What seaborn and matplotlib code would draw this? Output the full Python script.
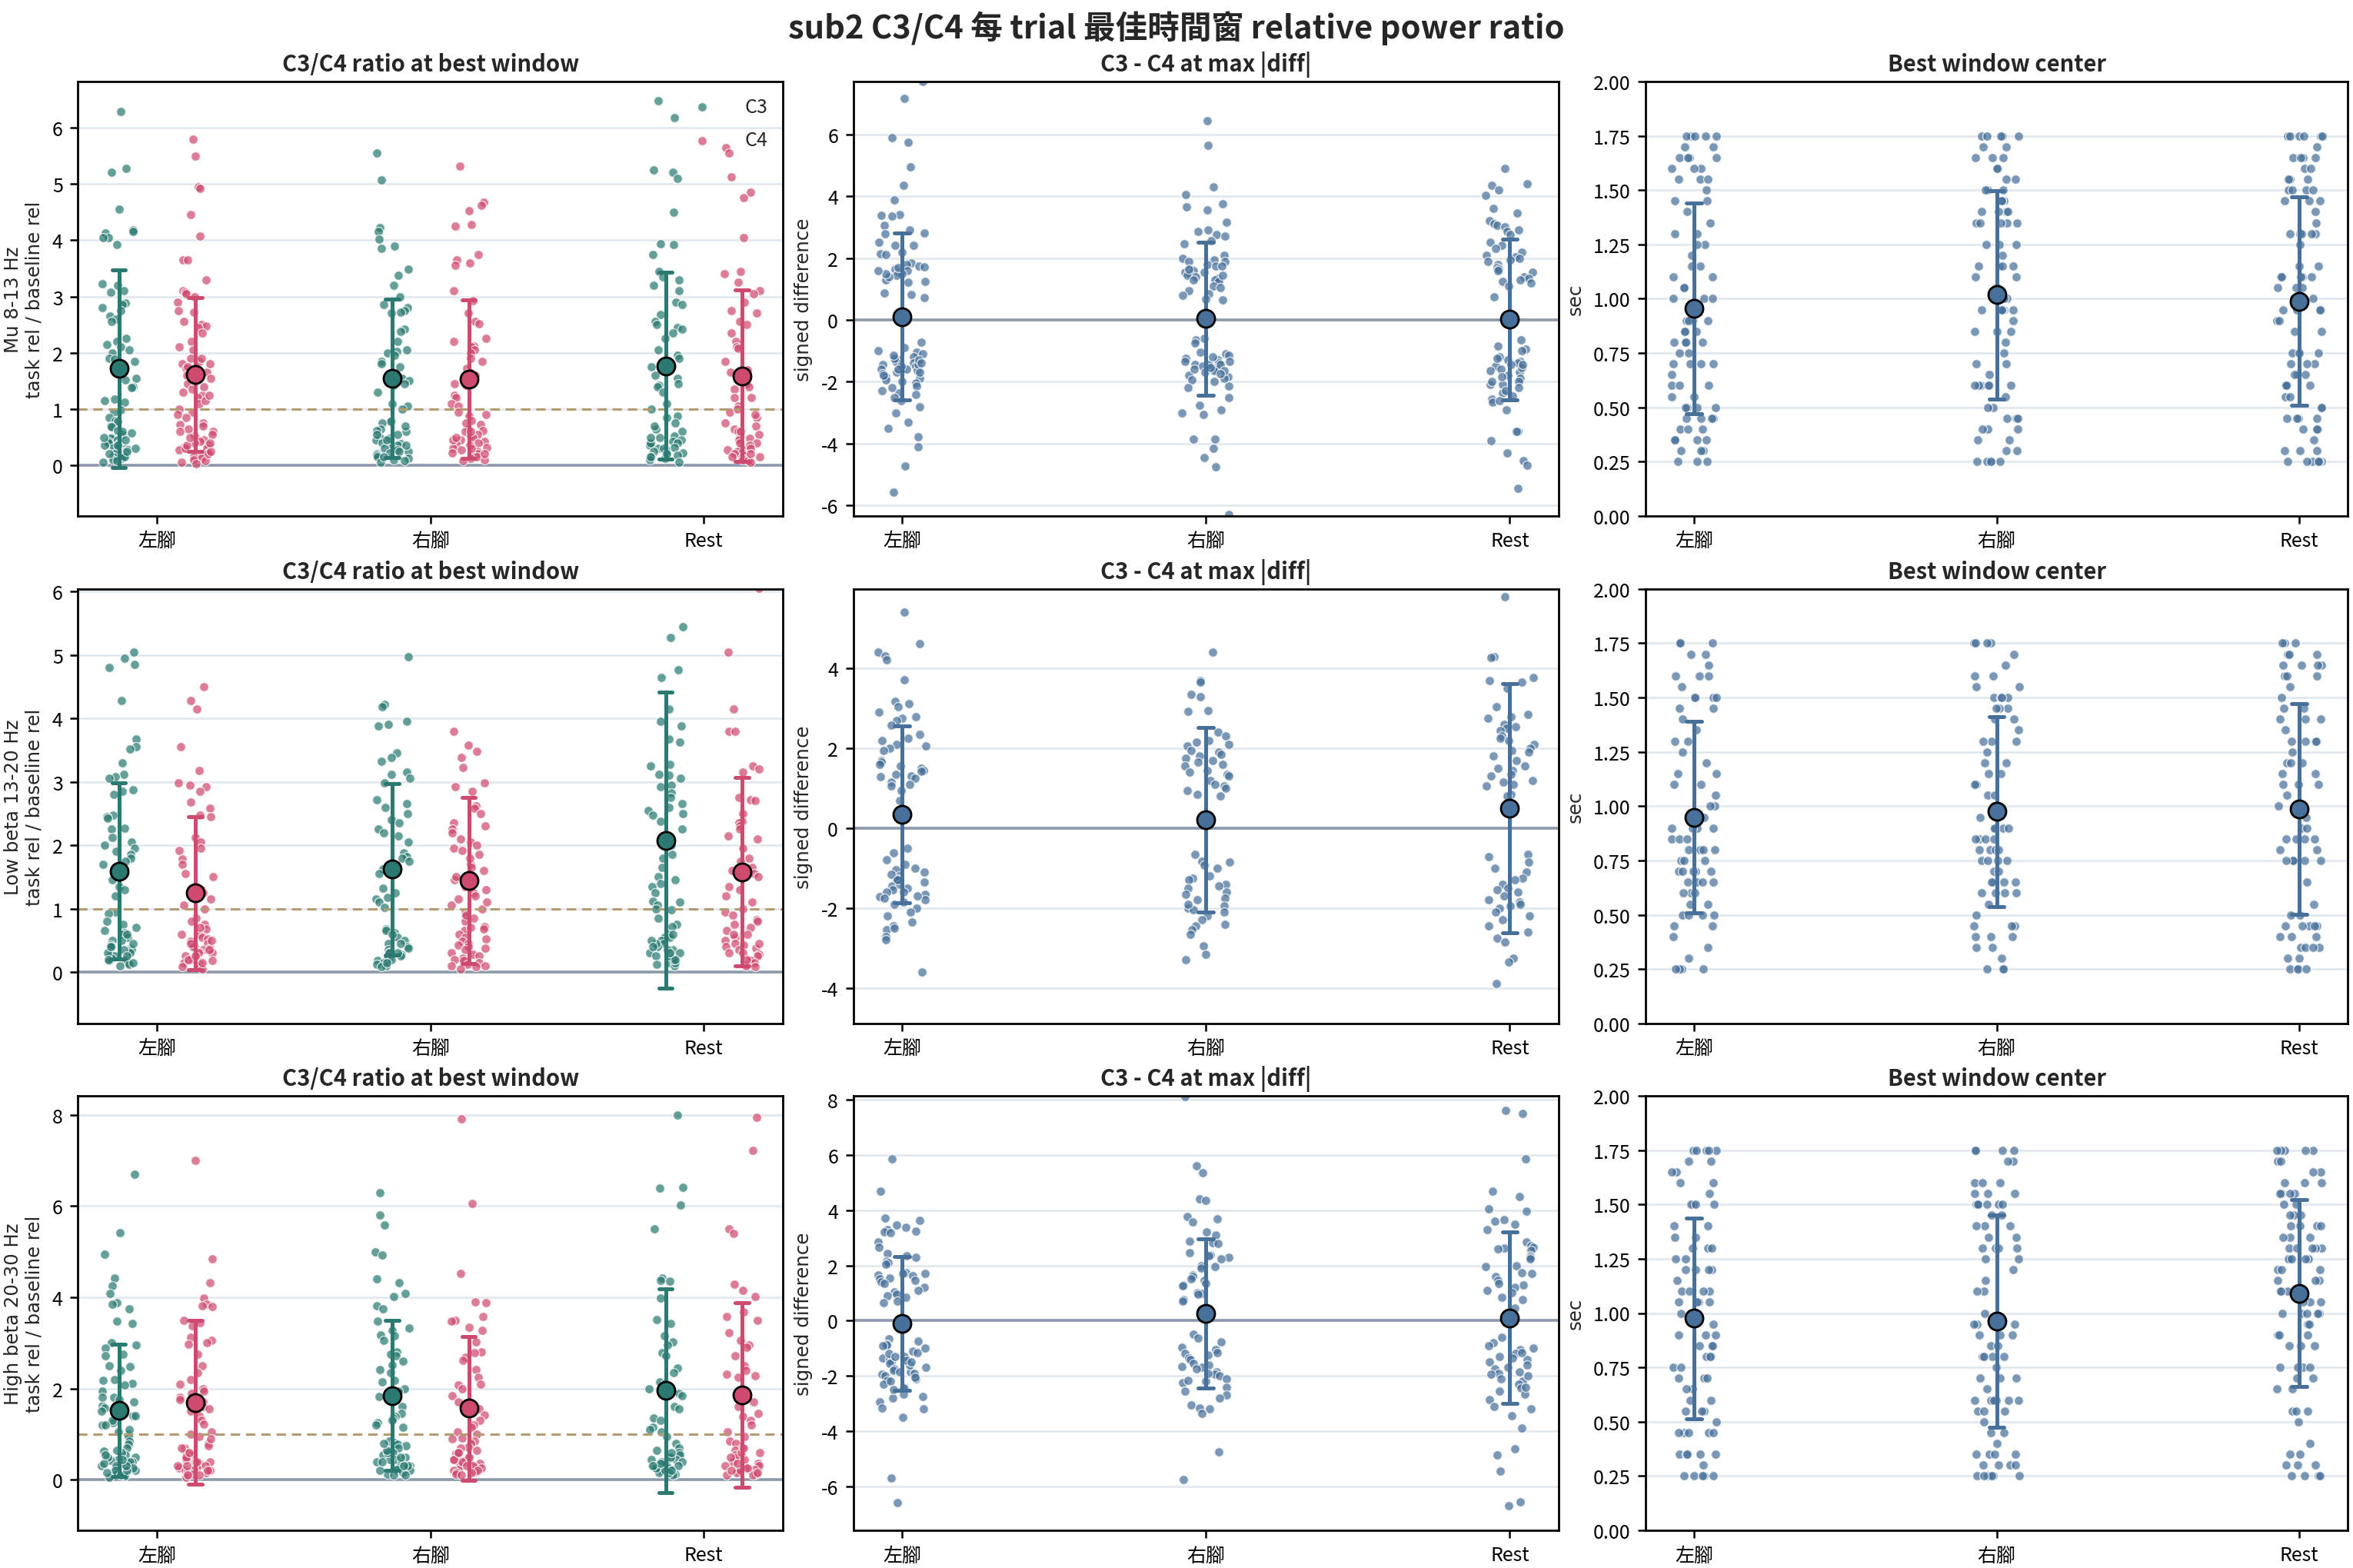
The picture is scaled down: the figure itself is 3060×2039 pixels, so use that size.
import numpy as np
import pandas as pd
import matplotlib
matplotlib.use("Agg")
import matplotlib.pyplot as plt
import seaborn as sns
from matplotlib.ticker import MultipleLocator, FormatStrFormatter

# ---------------- categories / labels ----------------
CLASSES = ["左腳", "右腳", "Rest"]
CHANNELS = ["C3", "C4"]
BANDS = ["Mu 8-13 Hz", "Low beta 13-20 Hz", "High beta 20-30 Hz"]
SUPTITLE = "sub2 C3/C4 每 trial 最佳時間窗 relative power ratio"
COL_TITLES = ["C3/C4 ratio at best window", "C3 - C4 at max |diff|", "Best window center"]

# ---------------- Mu 8-13 Hz : C3/C4 ratio ----------------
mu_left_c3 = [6.28,5.27,5.20,4.55,4.18,4.15,4.13,4.05,4.05,3.92,3.22,3.20,3.10,3.07,2.88,2.85,2.80,2.75,2.65,2.60,2.55,2.25,2.20,2.15,2.10,2.05,2.00,1.90,1.88,1.85,1.55,1.52,1.40,1.38,1.18,1.15,1.12,0.98,0.95,0.85,0.80,0.78,0.70,0.68,0.62,0.58,0.55,0.50,0.48,0.45,0.42,0.40,0.38,0.36,0.35,0.32,0.30,0.28,0.25,0.22,0.20,0.18,0.15,0.12,0.10,0.08,0.05,9.50,0.30,0.20,0.45,0.15,0.25,0.35,0.60,0.50]
mu_left_c4 = [5.80,5.50,4.95,4.92,4.45,4.07,3.65,3.65,3.30,3.10,3.08,3.05,3.00,2.90,2.75,2.72,2.55,2.50,2.48,2.45,2.35,2.20,2.10,2.05,1.90,1.85,1.80,1.72,1.65,1.60,1.60,1.55,1.45,1.30,1.25,1.20,1.10,1.00,0.95,0.90,0.85,0.75,0.72,0.65,0.60,0.55,0.52,0.45,0.42,0.40,0.35,0.32,0.30,0.28,0.22,0.18,0.15,0.12,0.10,0.08,0.05,0.03,0.20,0.25,0.30,0.35,0.40,0.50,0.60,0.70,1.35,1.40,1.50,1.65,1.70,1.75,1.80,1.90,1.15,1.25]
mu_right_c3 = [5.55,5.07,4.22,4.15,4.02,3.90,3.85,3.48,3.38,3.20,3.00,2.85,2.80,2.75,2.72,2.70,2.42,2.38,2.20,2.05,2.02,2.00,1.95,1.85,1.80,1.75,1.55,1.50,1.45,1.42,1.30,1.10,1.05,1.00,0.80,0.78,0.75,0.65,0.62,0.60,0.55,0.50,0.48,0.45,0.40,0.38,0.35,0.32,0.30,0.28,0.25,0.22,0.20,0.18,0.15,0.12,0.10,0.08,0.05,0.15,0.25,0.35,0.45,0.55,0.70]
mu_right_c4 = [5.32,4.68,4.62,4.52,4.28,4.25,3.75,3.65,3.60,3.55,3.10,2.92,2.70,2.55,2.52,2.25,2.20,2.12,2.10,2.05,2.00,1.90,1.85,1.72,1.65,1.60,1.45,1.42,1.25,1.20,1.10,1.05,0.95,0.88,0.80,0.72,0.65,0.62,0.60,0.55,0.52,0.50,0.45,0.42,0.40,0.38,0.35,0.32,0.30,0.28,0.25,0.22,0.20,0.18,0.15,0.12,0.10,0.08,0.30,0.45,0.60,0.75,0.90,0.20,0.50]
mu_rest_c3 = [6.48,6.18,5.25,5.20,5.10,4.50,3.93,3.92,3.75,3.45,3.35,3.30,3.20,3.10,2.90,2.85,2.68,2.55,2.50,2.45,2.42,2.35,2.25,2.05,1.95,1.90,1.75,1.60,1.55,1.45,1.42,1.40,1.30,1.10,1.00,0.88,0.85,0.75,0.65,0.60,0.52,0.50,0.45,0.42,0.40,0.38,0.35,0.32,0.30,0.28,0.25,0.22,0.20,0.18,0.15,0.12,0.10,0.05,0.30,0.40,0.50,0.20,0.15,0.70]
mu_rest_c4 = [5.65,5.55,5.12,4.85,4.75,4.05,3.45,3.40,3.25,3.10,3.05,2.90,2.75,2.70,2.55,2.50,2.35,2.20,2.10,2.08,1.85,1.70,1.65,1.60,1.45,1.40,1.35,1.20,1.20,1.05,0.95,0.85,0.75,0.70,0.65,0.60,0.55,0.50,0.48,0.45,0.40,0.35,0.30,0.28,0.25,0.22,0.20,0.18,0.15,0.12,0.10,0.08,0.05,0.30,0.40,0.60,0.90,1.00,0.20,0.15]

# ---------------- Mu 8-13 Hz : signed difference ----------------
mu_left_diff = [7.70,7.15,5.90,5.75,4.95,4.35,3.88,3.40,3.38,3.35,3.05,2.90,2.80,2.78,2.50,2.42,2.40,2.20,2.15,2.12,1.85,1.80,1.75,1.72,1.65,1.60,1.55,1.50,1.45,1.25,1.22,0.88,0.82,0.72,-0.72,-0.90,-1.00,-1.05,-1.10,-1.20,-1.30,-1.35,-1.40,-1.45,-1.50,-1.55,-1.60,-1.65,-1.70,-1.75,-1.85,-1.90,-1.95,-2.05,-2.15,-2.30,-2.35,-2.40,-2.60,-2.80,-3.00,-3.30,-3.50,-3.78,-4.10,-4.72,-5.58,-1.25,-1.60,-1.80,-2.00,-2.20,-2.50,-1.15,-1.45,1.30,1.40,1.50,1.60,1.70,-1.30,-1.40,-1.50,-1.60,-1.70]
mu_right_diff = [6.45,5.65,4.30,4.05,3.75,3.65,3.55,3.15,2.92,2.85,2.75,2.70,2.55,2.45,2.10,2.00,1.95,1.90,1.88,1.80,1.75,1.65,1.60,1.55,1.50,1.45,1.40,1.35,1.30,1.25,1.10,1.05,0.95,0.85,0.80,0.68,0.65,-0.60,-0.65,-0.75,-1.05,-1.10,-1.15,-1.30,-1.35,-1.40,-1.45,-1.50,-1.55,-1.60,-1.65,-1.70,-1.80,-1.85,-1.95,-2.15,-2.20,-2.50,-2.75,-2.90,-3.00,-3.05,-3.85,-3.85,-4.15,-4.45,-4.75,-6.30,-1.25,-1.45,-2.00,-1.20,-1.60,-1.90,1.30,1.45,1.55,1.65,1.75,-1.35,-1.45,-1.55,-1.65,-1.75]
mu_rest_diff = [4.90,4.35,4.20,4.02,3.45,3.20,3.10,3.05,3.00,2.90,2.85,2.75,2.50,2.40,2.30,2.20,2.10,2.05,2.00,1.95,1.90,1.80,1.70,1.65,1.60,1.55,1.40,1.35,1.30,1.25,1.20,1.10,0.75,-0.65,-0.85,-0.95,-1.00,-1.20,-1.30,-1.35,-1.40,-1.45,-1.50,-1.60,-1.70,-1.80,-1.90,-2.00,-2.10,-2.10,-2.20,-2.35,-2.45,-2.55,-2.65,-2.90,-3.60,-3.90,-4.55,-4.70,-5.45,-1.55,-1.25,-1.65,-1.85,-2.00,-2.30,-1.45,-2.60,4.40,-4.30,3.60,-3.60]

# ---------------- Low beta 13-20 Hz : C3/C4 ratio ----------------
lb_left_c3 = [5.05,4.95,4.85,4.80,4.28,3.67,3.55,3.52,3.30,3.12,3.08,3.05,2.88,2.85,2.80,2.48,2.45,2.42,2.27,2.25,2.12,2.05,2.00,1.95,1.90,1.85,1.80,1.75,1.70,1.55,1.50,1.45,1.35,1.30,1.20,0.95,0.92,0.80,0.75,0.70,0.65,0.62,0.60,0.55,0.50,0.42,0.40,0.38,0.35,0.30,0.28,0.25,0.22,0.20,0.18,0.15,0.12,0.10,0.30,0.40,0.50,0.60,0.20,0.35,0.45,0.25,0.15]
lb_left_c4 = [4.50,4.28,4.15,3.55,3.18,2.98,2.95,2.92,2.85,2.68,2.58,2.48,2.45,2.12,2.05,1.95,1.92,1.78,1.70,1.55,1.50,1.30,1.25,1.15,1.05,1.00,0.85,0.80,0.75,0.68,0.60,0.55,0.52,0.48,0.45,0.40,0.38,0.35,0.32,0.30,0.28,0.25,0.22,0.20,0.18,0.15,0.12,0.10,0.08,0.05,0.30,0.40,0.50,0.60,0.70,0.20,0.25,0.45,0.15,0.35]
lb_right_c3 = [4.97,4.22,4.18,3.95,3.90,3.88,3.45,3.38,3.32,3.15,3.12,3.05,2.98,2.72,2.65,2.60,2.50,2.40,2.35,2.25,2.20,2.15,2.05,1.88,1.82,1.80,1.75,1.62,1.55,1.32,1.25,1.18,1.15,1.10,1.02,0.68,0.65,0.62,0.55,0.50,0.45,0.40,0.35,0.32,0.30,0.28,0.25,0.22,0.20,0.18,0.15,0.12,0.10,0.08,0.30,0.45,0.60,0.20,0.15,0.38]
lb_right_c4 = [3.80,3.58,3.48,3.38,3.22,2.98,2.92,2.85,2.62,2.58,2.35,2.30,2.25,2.20,2.05,1.95,1.92,1.85,1.70,1.65,1.60,1.45,1.30,1.25,1.20,1.05,1.00,0.95,0.88,0.85,0.80,0.72,0.68,0.65,0.60,0.55,0.52,0.48,0.45,0.42,0.40,0.38,0.35,0.30,0.28,0.25,0.22,0.20,0.18,0.15,0.12,0.10,0.08,0.05,0.70,0.90,1.15,1.35,2.10,1.80,1.50,1.10,2.50,2.00,8.00,0.10]
lb_rest_c3 = [5.45,5.28,4.77,4.65,4.15,3.95,3.88,3.68,3.62,3.28,3.25,3.12,3.10,3.05,2.95,2.92,2.82,2.75,2.65,2.60,2.55,2.50,2.48,2.38,2.25,2.00,1.85,1.80,1.65,1.50,1.45,1.40,1.35,1.25,1.12,1.10,1.05,1.00,0.98,0.85,0.75,0.72,0.60,0.55,0.50,0.45,0.35,0.30,0.25,0.22,0.20,0.15,0.12,14.00,9.00,8.00,0.10,0.15,0.20,0.25,0.30,0.35,0.40,0.45,0.50,0.55,0.20,0.30,0.40,0.60]
lb_rest_c4 = [6.05,5.05,4.15,3.80,3.80,3.25,3.20,3.15,2.75,2.72,2.70,2.50,2.38,2.35,2.30,2.25,2.15,2.10,1.95,1.80,1.75,1.65,1.60,1.55,1.50,1.35,1.30,1.20,1.10,1.00,0.95,0.82,0.80,0.75,0.70,0.65,0.60,0.55,0.50,0.45,0.42,0.40,0.38,0.35,0.30,0.28,0.25,0.20,0.18,0.15,0.12,0.10,0.08,0.30,0.45,0.60,0.90,0.20,6.50]

# ---------------- Low beta 13-20 Hz : signed difference ----------------
lb_left_diff = [5.40,4.62,4.40,4.32,4.22,3.72,3.18,3.12,3.05,2.90,2.80,2.75,2.70,2.58,2.35,2.25,2.20,2.10,2.05,2.00,1.95,1.70,1.65,1.60,1.55,1.50,1.45,1.42,1.35,1.30,1.28,1.25,1.15,1.10,1.05,0.95,0.70,-0.50,-0.62,-0.80,-0.90,-1.00,-1.05,-1.10,-1.20,-1.25,-1.30,-1.35,-1.45,-1.50,-1.60,-1.65,-1.72,-1.80,-1.90,-2.00,-2.20,-2.35,-2.45,-2.55,-2.72,-2.80,-3.60,-1.40,-1.55,-1.70,-1.85,-2.10,-1.15,-1.60,-1.75,-2.50,-1.30]
lb_right_diff = [4.40,3.70,3.65,3.35,3.30,2.95,2.92,2.40,2.30,2.20,2.15,2.10,2.05,1.95,1.90,1.85,1.80,1.75,1.70,1.65,1.60,1.55,1.45,1.40,1.35,1.30,1.20,1.10,1.05,1.00,0.95,0.85,0.80,-0.65,-0.82,-0.85,-0.92,-1.20,-1.25,-1.30,-1.40,-1.45,-1.50,-1.60,-1.75,-1.80,-1.95,-2.00,-2.05,-2.10,-2.20,-2.30,-2.45,-2.55,-2.65,-2.95,-3.15,-3.30,-1.00,-1.65,-1.90,-2.40,6.50,-5.50]
lb_rest_diff = [5.80,4.30,4.28,3.78,3.70,3.65,3.50,3.05,2.85,2.80,2.75,2.60,2.55,2.50,2.45,2.30,2.25,2.20,2.10,2.00,1.95,1.90,1.80,1.70,1.55,1.50,1.45,1.35,1.30,1.20,1.15,1.10,1.05,0.85,0.80,-0.65,-0.72,-0.85,-1.00,-1.10,-1.25,-1.30,-1.40,-1.50,-1.60,-1.70,-1.80,-1.85,-1.90,-2.00,-2.10,-2.20,-2.30,-2.45,-2.60,-2.75,-2.85,-3.25,-3.35,-3.90,-1.55,-1.95,10.50,-8.50,8.00,-7.00]

# ---------------- High beta 20-30 Hz : C3/C4 ratio ----------------
hb_left_c3 = [6.70,5.42,4.95,4.42,4.25,4.08,3.88,3.85,3.75,3.48,3.42,3.00,2.95,2.88,2.75,2.72,2.50,2.48,2.40,2.20,2.18,2.12,2.08,1.95,1.80,1.75,1.62,1.58,1.45,1.40,1.25,1.20,1.05,1.00,0.95,0.85,0.78,0.70,0.62,0.55,0.50,0.45,0.42,0.40,0.35,0.32,0.30,0.28,0.25,0.22,0.20,0.18,0.15,0.12,0.10,0.08,0.05,0.30,0.40,0.60,0.20,0.15,0.50,0.35,0.25,0.10,0.20,0.30,0.45,0.55,0.65,1.30,1.50,1.60,1.70,1.40,1.20,1.10,1.80]
hb_left_c4 = [7.00,4.85,4.32,3.98,3.85,3.82,3.80,3.50,3.45,3.38,3.12,3.05,3.00,2.98,2.75,2.50,2.35,2.20,2.10,2.00,1.95,1.90,1.80,1.75,1.70,1.60,1.55,1.50,1.40,1.30,1.22,1.05,1.00,0.95,0.80,0.75,0.70,0.60,0.55,0.50,0.45,0.40,0.35,0.30,0.28,0.25,0.22,0.20,0.18,0.15,0.12,0.10,0.05,0.30,0.50,0.70,0.90,0.20,0.40,10.00,0.10,0.20,0.30,0.40,0.60]
hb_right_c3 = [6.30,5.80,5.58,5.00,4.92,4.40,4.32,4.08,4.02,3.82,3.75,3.48,3.32,3.28,3.18,3.15,3.05,2.80,2.75,2.72,2.60,2.52,2.42,2.35,2.18,2.15,2.00,1.95,1.82,1.60,1.45,1.38,1.35,1.30,1.25,1.20,1.15,0.85,0.82,0.78,0.75,0.70,0.62,0.60,0.55,0.50,0.45,0.40,0.35,0.30,0.28,0.25,0.22,0.20,0.15,0.12,0.10,0.30,0.45,0.60,0.10,0.20,0.30,0.40,0.50,0.65,0.80]
hb_right_c4 = [7.92,6.05,4.52,3.90,3.88,3.58,3.50,3.48,3.35,3.28,3.02,2.80,2.78,2.68,2.62,2.42,2.25,2.10,2.08,2.00,1.85,1.70,1.62,1.55,1.42,1.30,1.20,1.15,1.05,1.00,0.92,0.85,0.80,0.72,0.65,0.58,0.50,0.45,0.42,0.38,0.35,0.30,0.28,0.25,0.22,0.20,0.18,0.15,0.12,0.10,0.30,0.50,0.70,0.90,0.20,0.40,0.60,0.15,0.30,0.45,0.60]
hb_rest_c3 = [8.00,6.42,6.40,6.02,5.50,4.42,4.38,4.35,3.98,3.52,3.42,3.15,3.02,2.95,2.78,2.72,2.45,2.35,2.15,2.12,2.00,1.90,1.85,1.60,1.55,1.35,1.30,1.15,1.10,1.05,0.95,0.80,0.70,0.65,0.60,0.55,0.50,0.45,0.40,0.35,0.30,0.28,0.25,0.22,0.20,0.15,0.12,0.10,0.30,0.50,0.60,0.20,0.40,11.00,0.15,0.25,0.35,0.45,0.20,0.30]
hb_rest_c4 = [7.95,7.22,5.50,5.40,4.28,4.15,4.02,3.68,3.58,3.50,3.22,3.05,2.95,2.90,2.72,2.50,2.40,2.32,2.28,2.25,1.95,1.85,1.70,1.60,1.45,1.38,1.30,1.20,1.05,0.95,0.85,0.80,0.70,0.65,0.60,0.55,0.50,0.45,0.40,0.35,0.30,0.25,0.22,0.20,0.18,0.15,0.12,0.10,0.30,0.50,0.60,0.70,0.20,8.80,0.10,0.20,0.15,0.25,0.35]

# ---------------- High beta 20-30 Hz : signed difference ----------------
hb_left_diff = [5.85,4.70,3.72,3.62,3.45,3.38,3.30,3.25,3.20,3.18,2.85,2.65,2.42,2.35,2.30,2.15,2.10,2.05,1.75,1.72,1.70,1.65,1.62,1.55,1.50,1.45,1.40,1.35,1.20,1.10,1.05,0.95,0.90,0.85,0.72,0.65,-0.65,-0.75,-0.85,-0.88,-0.90,-1.10,-1.15,-1.30,-1.35,-1.40,-1.50,-1.55,-1.75,-1.80,-1.85,-1.95,-2.00,-2.10,-2.15,-2.40,-2.45,-2.65,-2.75,-2.80,-2.95,-3.15,-3.20,-3.50,-5.70,-6.60,-1.20,-1.60,-2.30,-1.45,-1.90,-2.20,-1.00,-2.50,-1.70,-1.30,-1.85,-2.05,-1.50]
hb_right_diff = [8.10,5.60,5.35,4.42,4.35,3.78,3.68,3.58,3.22,3.10,2.88,2.82,2.80,2.45,2.38,2.35,2.30,2.25,2.00,1.95,1.90,1.65,1.60,1.50,1.45,1.35,1.30,1.25,1.00,0.98,0.95,0.75,0.70,0.40,-0.50,-0.62,-0.78,-0.95,-1.05,-1.15,-1.20,-1.25,-1.35,-1.40,-1.55,-1.60,-1.65,-1.70,-1.75,-1.85,-1.95,-2.00,-2.10,-2.20,-2.25,-2.40,-2.55,-2.70,-2.80,-3.05,-3.15,-3.20,-3.35,-4.75,-5.75,-1.90,-2.15]
hb_rest_diff = [7.60,7.50,5.85,4.68,4.50,4.05,3.95,3.65,3.60,3.50,3.30,2.85,2.70,2.65,2.62,2.60,2.55,2.35,2.30,2.25,2.00,1.95,1.75,1.70,1.60,1.45,1.35,1.30,1.20,1.10,1.00,0.85,0.75,0.45,-0.60,-0.80,-0.90,-1.05,-1.20,-1.30,-1.40,-1.50,-1.60,-1.75,-1.85,-1.90,-1.95,-2.10,-2.20,-2.30,-2.45,-2.55,-2.65,-2.85,-3.10,-3.20,-3.45,-3.90,-4.65,-4.85,-5.45,-6.55,-6.70,-1.15,-2.00,-1.70,-2.40,-1.35,-1.00]

# ---------------- best window centre (sec): levels and trial counts per level ----------------
CENTER_LEVELS = [1.75,1.70,1.65,1.60,1.55,1.50,1.45,1.40,1.35,1.30,1.25,1.20,1.15,1.10,1.05,1.00,
                 0.95,0.90,0.85,0.80,0.75,0.70,0.65,0.60,0.55,0.50,0.45,0.40,0.35,0.30,0.25]
mu_left_center_n  = [5,2,4,3,3,1,2,1,1,2,2,1,2,2,2,3,0,4,3,4,2,4,1,3,2,4,4,3,4,3,3]
mu_right_center_n = [5,2,3,2,2,3,3,4,5,0,3,1,4,2,1,2,5,1,3,1,1,2,1,6,1,2,3,3,2,2,5]
mu_rest_center_n  = [6,1,4,2,3,4,3,1,1,5,1,0,2,5,3,3,4,2,2,0,4,3,3,4,2,2,4,3,1,3,6]
lb_left_center_n  = [3,2,1,3,1,4,2,1,1,2,1,1,2,2,1,2,2,4,3,4,3,5,4,3,2,4,2,1,1,1,4]
lb_right_center_n = [4,1,1,2,2,4,3,2,1,3,1,2,2,2,2,2,2,4,4,4,4,2,4,4,1,1,3,3,2,1,3]
lb_rest_center_n  = [3,3,4,3,1,1,2,3,1,4,1,3,2,3,1,2,1,2,4,2,5,0,1,0,1,2,5,3,4,2,4]
hb_left_center_n  = [5,2,2,2,1,4,0,2,2,3,2,4,1,4,4,3,1,3,3,3,2,3,2,2,3,1,5,0,5,1,5]
hb_right_center_n = [4,2,0,3,3,6,2,3,2,4,2,1,1,2,0,1,3,3,2,4,1,3,1,6,3,1,2,1,4,4,6]
hb_rest_center_n  = [5,2,2,3,4,2,3,4,3,5,5,3,3,5,3,5,2,3,3,0,4,2,2,0,3,1,0,1,2,3,4]

# ---------------- styling ----------------
C3_COLOR = "#2a7a72"
C4_COLOR = "#cf4a6f"
DIFF_COLOR = "#47709a"
GRID_COLOR = "#e1e7ef"
ZERO_COLOR = "#8c99aa"
ONE_COLOR = "#b39d6f"
DODGE = 0.14

RATIO = [
    {("左腳", "C3"): mu_left_c3, ("左腳", "C4"): mu_left_c4, ("右腳", "C3"): mu_right_c3,
     ("右腳", "C4"): mu_right_c4, ("Rest", "C3"): mu_rest_c3, ("Rest", "C4"): mu_rest_c4},
    {("左腳", "C3"): lb_left_c3, ("左腳", "C4"): lb_left_c4, ("右腳", "C3"): lb_right_c3,
     ("右腳", "C4"): lb_right_c4, ("Rest", "C3"): lb_rest_c3, ("Rest", "C4"): lb_rest_c4},
    {("左腳", "C3"): hb_left_c3, ("左腳", "C4"): hb_left_c4, ("右腳", "C3"): hb_right_c3,
     ("右腳", "C4"): hb_right_c4, ("Rest", "C3"): hb_rest_c3, ("Rest", "C4"): hb_rest_c4},
]
DIFF = [
    [mu_left_diff, mu_right_diff, mu_rest_diff],
    [lb_left_diff, lb_right_diff, lb_rest_diff],
    [hb_left_diff, hb_right_diff, hb_rest_diff],
]
CENTER_N = [
    [mu_left_center_n, mu_right_center_n, mu_rest_center_n],
    [lb_left_center_n, lb_right_center_n, lb_rest_center_n],
    [hb_left_center_n, hb_right_center_n, hb_rest_center_n],
]
RATIO_YLIM = [(-0.90, 6.82), (-0.81, 6.04), (-1.11, 8.42)]
RATIO_STEP = [1, 1, 2]
DIFF_YLIM = [(-6.34, 7.71), (-4.89, 5.99), (-7.59, 8.14)]

np.random.seed(3)
sns.set_theme(style="ticks")
plt.rcParams["font.family"] = ["Noto Sans CJK TC", "DejaVu Sans"]
plt.rcParams["axes.unicode_minus"] = False

fig = plt.figure(figsize=(15.3, 10.2), dpi=200)
COL_X = [0.0331, 0.3626, 0.6993]
COL_W = [0.2997, 0.2997, 0.2985]
ROW_Y = [0.6706, 0.3471, 0.0240]
ROW_H = 0.2770


def strip(ax, df, color, jitter):
    n0 = len(ax.collections)
    sns.stripplot(data=df, x="pos", y="value", orient="x", native_scale=True, jitter=jitter,
                  color=color, size=4.3, alpha=0.72, edgecolor="white", linewidth=0.5,
                  ax=ax, zorder=1)
    return ax.collections[n0]


def mean_sd(ax, df, color):
    sns.pointplot(data=df, x="pos", y="value", orient="x", native_scale=True,
                  estimator="mean", errorbar="sd", color=color, markers="o",
                  linestyle="none", capsize=0.05,
                  err_kws={"linewidth": 1.8, "zorder": 3},
                  markersize=8.3, markeredgecolor="black", markeredgewidth=1.0,
                  zorder=4, ax=ax)


def style_axes(ax, title, ylabel):
    ax.set_title(title, fontsize=10.5, fontweight="bold", pad=5)
    ax.set_ylabel(ylabel, fontsize=8.8, family="DejaVu Sans")
    ax.set_xlabel("")
    ax.set_xticks(range(len(CLASSES)))
    ax.set_xticklabels(CLASSES)
    ax.tick_params(axis="both", labelsize=9, colors="black", length=3.5, width=0.9)
    ax.grid(axis="y", color=GRID_COLOR, linewidth=0.9)
    ax.grid(axis="x", visible=False)
    ax.set_axisbelow(True)
    for sp in ax.spines.values():
        sp.set_visible(True)
        sp.set_color("black")
        sp.set_linewidth(1.0)


for r in range(3):
    # ---- ratio panel ----
    ax = fig.add_axes([COL_X[0], ROW_Y[r], COL_W[0], ROW_H])
    handles = {}
    for ch, off, col in zip(CHANNELS, (-DODGE, DODGE), (C3_COLOR, C4_COLOR)):
        parts = []
        for i, cls in enumerate(CLASSES):
            vals = RATIO[r][(cls, ch)]
            parts.append(pd.DataFrame({"pos": i + off, "value": vals, "cls": cls, "channel": ch}))
        df = pd.concat(parts, ignore_index=True)
        handles[ch] = strip(ax, df, col, 0.065)
        mean_sd(ax, df, col)
    ax.axhline(0, color=ZERO_COLOR, linewidth=1.3, zorder=0.9)
    ax.axhline(1, color=ONE_COLOR, linewidth=1.1, linestyle=(0, (4, 2.5)), zorder=1.5)
    ax.set_xlim(-0.29, 2.29)
    ax.set_ylim(*RATIO_YLIM[r])
    ax.yaxis.set_major_locator(MultipleLocator(RATIO_STEP[r]))
    style_axes(ax, COL_TITLES[0], f"{BANDS[r]}\ntask rel / baseline rel")
    if r == 0:
        ax.legend([handles["C3"], handles["C4"]], CHANNELS, loc="upper right",
                  frameon=False, fontsize=9, handletextpad=1.2, borderaxespad=0.4,
                  labelspacing=0.7)

    # ---- signed difference panel ----
    ax = fig.add_axes([COL_X[1], ROW_Y[r], COL_W[1], ROW_H])
    parts = [pd.DataFrame({"pos": i, "value": DIFF[r][i], "cls": cls}) for i, cls in enumerate(CLASSES)]
    df = pd.concat(parts, ignore_index=True)
    strip(ax, df, DIFF_COLOR, 0.08)
    mean_sd(ax, df, DIFF_COLOR)
    ax.axhline(0, color=ZERO_COLOR, linewidth=1.3, zorder=0.9)
    ax.set_xlim(-0.16, 2.16)
    ax.set_ylim(*DIFF_YLIM[r])
    ax.yaxis.set_major_locator(MultipleLocator(2))
    style_axes(ax, COL_TITLES[1], "signed difference")

    # ---- best window centre panel ----
    ax = fig.add_axes([COL_X[2], ROW_Y[r], COL_W[2], ROW_H])
    parts = [pd.DataFrame({"pos": i, "value": np.repeat(CENTER_LEVELS, CENTER_N[r][i]), "cls": cls})
             for i, cls in enumerate(CLASSES)]
    df = pd.concat(parts, ignore_index=True)
    strip(ax, df, DIFF_COLOR, 0.075)
    mean_sd(ax, df, DIFF_COLOR)
    ax.set_xlim(-0.16, 2.16)
    ax.set_ylim(0, 2.0)
    ax.yaxis.set_major_locator(MultipleLocator(0.25))
    ax.yaxis.set_major_formatter(FormatStrFormatter("%.2f"))
    style_axes(ax, COL_TITLES[2], "sec")

fig.suptitle(SUPTITLE, fontsize=15, fontweight="bold", y=0.993)
fig.savefig("out.png", dpi=200)
